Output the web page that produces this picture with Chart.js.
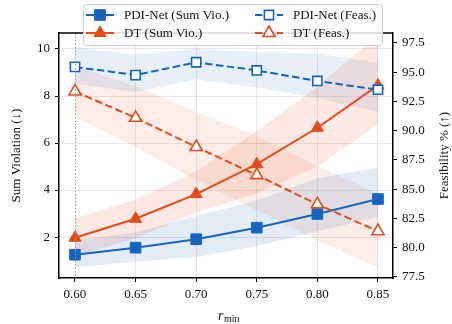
<!DOCTYPE html>
<html>
<head>
<meta charset="utf-8">
<script src="https://cdn.jsdelivr.net/npm/chart.js@4"></script>
<style>
  html, body { margin: 0; padding: 0; background: #fff; }
  #wrap { width: 452px; height: 324px; }
</style>
</head>
<body>
<div id="wrap"><canvas id="chart1" width="452" height="324"></canvas></div>
<script>
var rMin = [0.60, 0.65, 0.70, 0.75, 0.80, 0.85];

// sum violation (left axis)
var pdiSumVio = [1.25, 1.55, 1.91, 2.40, 2.98, 3.62];
var pdiSumLow = [0.72, 0.95, 1.15, 1.62, 2.25, 2.85];
var pdiSumHigh = [1.85, 2.20, 2.90, 3.55, 4.50, 4.95];
var dtSumVio = [1.97, 2.78, 3.83, 5.10, 6.65, 8.45];
var dtSumLow = [1.20, 1.95, 3.05, 3.85, 5.00, 6.80];
var dtSumHigh = [2.80, 3.60, 4.80, 6.50, 8.40, 10.60];

// feasibility (right axis)
var pdiFeas = [95.45, 94.75, 95.85, 95.15, 94.25, 93.50];
var pdiFeasLow = [94.0, 93.3, 94.4, 93.7, 92.8, 91.6];
var pdiFeasHigh = [97.1, 96.5, 97.0, 96.7, 96.6, 95.8];
var dtFeas = [93.35, 91.10, 88.60, 86.20, 83.70, 81.40];
var dtFeasLow = [91.2, 88.6, 85.8, 83.2, 80.6, 78.3];
var dtFeasHigh = [95.5, 93.8, 91.6, 89.5, 87.0, 84.6];

var xTicks = [0.60, 0.65, 0.70, 0.75, 0.80, 0.85];
var leftTicks = [2, 4, 6, 8, 10];
var rightTicks = [77.5, 80.0, 82.5, 85.0, 87.5, 90.0, 92.5, 95.0, 97.5];

var blue = '#1565c0';
var orange = '#e64a19';
var serif = '"Liberation Serif", "DejaVu Serif", serif';

var pts = function (ys) {
    var data = [];
    for (var i = 0; i < rMin.length; ++i) {
        data.push({ x: rMin[i], y: ys[i] });
    }
    return data;
};

var band = function (ys, axis, target, color) {
    return {
        data: pts(ys),
        yAxisID: axis,
        borderWidth: 0,
        pointRadius: 0,
        backgroundColor: color,
        fill: target === null ? false : { target: target },
        order: 10,
        legend: false
    };
};

var line = function (label, ys, axis, color, dashed, style, open, order) {
    return {
        label: label,
        data: pts(ys),
        yAxisID: axis,
        borderColor: color,
        borderWidth: 2,
        borderDash: dashed ? [7.5, 3.5] : [],
        pointStyle: style,
        pointRadius: style === 'rect' ? (open ? 6.5 : 7.5) : 7,
        pointBackgroundColor: open ? '#fff' : color,
        pointBorderColor: color,
        pointBorderWidth: open ? 1.6 : 1,
        fill: false,
        order: order,
        legend: true
    };
};

// legend drawn by hand, two columns over the top of the plot
var legendPlugin = {
    id: 'boxLegend',
    afterDraw: function (chart) {
        var ctx = chart.ctx;
        var area = chart.chartArea;
        var xs = chart.scales.x;

        ctx.save();
        // dotted reference line at r_min = 0.60
        ctx.strokeStyle = '#999';
        ctx.lineWidth = 1;
        ctx.setLineDash([1.5, 2]);
        var px = Math.round(xs.getPixelForValue(0.60)) + 0.5;
        ctx.beginPath();
        ctx.moveTo(px, area.top);
        ctx.lineTo(px, area.bottom);
        ctx.stroke();
        ctx.setLineDash([]);

        // top spine
        ctx.strokeStyle = '#000';
        ctx.lineWidth = 1.5;
        ctx.beginPath();
        ctx.moveTo(area.left, area.top);
        ctx.lineTo(area.right, area.top);
        ctx.stroke();

        // legend box
        var bx = 83, by = 4, bw = 299, bh = 41;
        ctx.fillStyle = 'rgba(255,255,255,0.85)';
        ctx.strokeStyle = '#d0d0d0';
        ctx.lineWidth = 1;
        ctx.beginPath();
        ctx.roundRect(bx + 0.5, by + 0.5, bw, bh, 3);
        ctx.fill();
        ctx.stroke();

        var items = chart.data.datasets.filter(function (d) { return d.legend; });
        var cols = [86, 255];
        var rows = [15, 33];
        ctx.font = '13px ' + serif;
        ctx.textBaseline = 'middle';
        for (var i = 0; i < items.length; ++i) {
            var d = items[i];
            var x0 = cols[Math.floor(i / 2)];
            var y0 = rows[i % 2];
            ctx.strokeStyle = d.borderColor;
            ctx.lineWidth = 2;
            ctx.setLineDash(d.borderDash);
            ctx.beginPath();
            ctx.moveTo(x0, y0);
            ctx.lineTo(x0 + 28, y0);
            ctx.stroke();
            ctx.setLineDash([]);
            ctx.fillStyle = d.pointBackgroundColor;
            ctx.strokeStyle = d.pointBorderColor;
            ctx.lineWidth = d.pointBorderWidth;
            ctx.beginPath();
            Chart.helpers.drawPoint(ctx, {
                pointStyle: d.pointStyle,
                radius: d.pointRadius,
                borderWidth: d.pointBorderWidth,
                rotation: 0
            }, x0 + 14, y0);
            ctx.fillStyle = '#111';
            ctx.fillText(d.label, x0 + 38, y0 + 1);
        }

        // x axis title: r_min
        ctx.fillStyle = '#111';
        ctx.textBaseline = 'alphabetic';
        ctx.font = 'italic 14px ' + serif;
        var cx = (area.left + area.right) / 2 - 8;
        ctx.fillText('r', cx, 320);
        var rw = ctx.measureText('r').width;
        ctx.font = '10px ' + serif;
        ctx.fillText('min', cx + rw + 0.5, 322);

        // right axis title, reading upwards like the left one
        ctx.font = '13px ' + serif;
        ctx.textAlign = 'center';
        ctx.textBaseline = 'middle';
        ctx.translate(445, (area.top + area.bottom) / 2);
        ctx.rotate(-Math.PI / 2);
        ctx.fillText('Feasibility % (↑)', 0, 0);
        ctx.restore();
    }
};

var ctx1 = document.getElementById('chart1').getContext('2d');

new Chart(ctx1, {
    type: 'line',
    data: {
        datasets: [
            line('PDI-Net (Sum Vio.)', pdiSumVio, 'yL', blue, false, 'rect', false, 4),
            line('DT (Sum Vio.)', dtSumVio, 'yL', orange, false, 'triangle', false, 3),
            line('PDI-Net (Feas.)', pdiFeas, 'yR', blue, true, 'rect', true, 2),
            line('DT (Feas.)', dtFeas, 'yR', orange, true, 'triangle', true, 1),
            band(pdiSumHigh, 'yL', 5, 'rgba(21,101,192,0.12)'),
            band(pdiSumLow, 'yL', null, 'transparent'),
            band(dtSumHigh, 'yL', 7, 'rgba(230,74,25,0.12)'),
            band(dtSumLow, 'yL', null, 'transparent'),
            band(pdiFeasHigh, 'yR', 9, 'rgba(21,101,192,0.10)'),
            band(pdiFeasLow, 'yR', null, 'transparent'),
            band(dtFeasHigh, 'yR', 11, 'rgba(230,74,25,0.10)'),
            band(dtFeasLow, 'yR', null, 'transparent')
        ]
    },
    options: {
        responsive: false,
        animation: false,
        layout: { padding: { top: 33, left: 0, right: 0, bottom: 0 } },
        plugins: {
            legend: { display: false },
            tooltip: { enabled: false }
        },
        scales: {
            x: {
                type: 'linear',
                min: 0.5868,
                max: 0.8624,
                afterFit: function (s) { s.height = 46; },
                afterBuildTicks: function (s) {
                    s.ticks = xTicks.map(function (v) { return { value: v }; });
                },
                ticks: {
                    font: { family: serif, size: 13 },
                    color: '#111',
                    padding: 5,
                    maxRotation: 0,
                    callback: function (v) { return v.toFixed(2); }
                },
                grid: {
                    color: function (c) { return c.index === 0 ? 'transparent' : 'rgba(0,0,0,0.09)'; },
                    tickColor: '#000',
                    tickLength: 4
                },
                border: { color: '#000', width: 1.5 }
            },
            yL: {
                type: 'linear',
                position: 'left',
                min: 0.26,
                max: 10.68,
                afterFit: function (s) { s.width = 59; },
                afterBuildTicks: function (s) {
                    s.ticks = leftTicks.map(function (v) { return { value: v }; });
                },
                ticks: {
                    font: { family: serif, size: 13 },
                    color: '#111',
                    padding: 5
                },
                grid: { color: 'rgba(0,0,0,0.09)', tickColor: '#000', tickLength: 4 },
                border: { color: '#000', width: 1.5 },
                title: {
                    display: true,
                    text: 'Sum Violation (↓)',
                    font: { family: serif, size: 13 },
                    color: '#111',
                    padding: { top: 9, bottom: 0 }
                }
            },
            yR: {
                type: 'linear',
                position: 'right',
                min: 77.4,
                max: 98.35,
                afterFit: function (s) { s.width = 59; },
                afterBuildTicks: function (s) {
                    s.ticks = rightTicks.map(function (v) { return { value: v }; });
                },
                ticks: {
                    font: { family: serif, size: 13 },
                    color: '#111',
                    padding: 5,
                    callback: function (v) { return v.toFixed(1); }
                },
                grid: { drawOnChartArea: false, tickColor: '#000', tickLength: 4 },
                border: { color: '#000', width: 1.5 }
            }
        }
    },
    plugins: [legendPlugin]
});
</script>
</body>
</html>
